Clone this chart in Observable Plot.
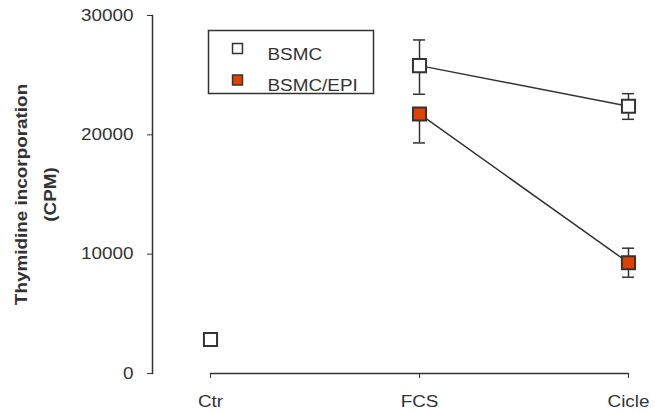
<!DOCTYPE html>
<html><head><meta charset="utf-8">
<script src="https://cdn.jsdelivr.net/npm/d3@7"></script>
<script src="https://cdn.jsdelivr.net/npm/@observablehq/plot@0.6"></script>
<style>body{margin:0;background:#fff} #chart{width:655px;height:414px}</style>
</head><body><div id="chart"></div>
<script>
const treatments = ["Ctr", "FCS", "Cicle"];
const seriesNames = ["BSMC", "BSMC/EPI"];
const seriesFills = ["#ffffff", "#e04000"];
const bsmcMean = [2850, 25800, 22400];
const bsmcErrUp = [0, 2150, 1050];
const bsmcErrDown = [0, 2400, 1100];
const epiMean = [null, 21750, 9280];
const epiErrUp = [null, 0, 1220];
const epiErrDown = [null, 2430, 1210];
const linked = ["FCS", "Cicle"];
const yTicks = [0, 10000, 20000, 30000];
const yLabelLines = ["Thymidine incorporation", "(CPM)"];

const means = [bsmcMean, epiMean], ups = [bsmcErrUp, epiErrUp], downs = [bsmcErrDown, epiErrDown];
const rows = [];
seriesNames.forEach((s, si) => treatments.forEach((t, ti) => {
  if (means[si][ti] != null) rows.push({series: s, si, treatment: t, mean: means[si][ti], up: ups[si][ti], down: downs[si][ti]});
}));

const ink = "#333";
const marks = [
  Plot.frame({anchor: "left", stroke: ink, strokeWidth: 1.5}),
  Plot.axisY({ticks: yTicks, tickFormat: "d", tickSize: 5, tickPadding: 14, fontSize: 16, label: null}),
  Plot.axisX({tickSize: 5, tickPadding: 17, fontSize: 16, label: null}),
  Plot.lineY(treatments.map(t => ({t})), {x: "t", y: d => 0, stroke: ink, strokeWidth: 1.5}),
  Plot.ruleX(rows.filter(r => r.up > 0 || r.down > 0), {x: "treatment", y1: r => r.mean - r.down, y2: r => r.mean + r.up, stroke: ink, strokeWidth: 1.5}),
  Plot.ruleY(rows.filter(r => r.up > 0), {y: r => r.mean + r.up, x1: "treatment", x2: "treatment", insetLeft: -6, insetRight: -6, stroke: ink, strokeWidth: 1.5}),
  Plot.ruleY(rows.filter(r => r.down > 0), {y: r => r.mean - r.down, x1: "treatment", x2: "treatment", insetLeft: -6, insetRight: -6, stroke: ink, strokeWidth: 1.5}),
  Plot.line(rows.filter(r => linked.includes(r.treatment)), {x: "treatment", y: "mean", z: "series", stroke: ink, strokeWidth: 1.5}),
  ...seriesNames.map((s, si) => Plot.dot(rows.filter(r => r.series === s), {x: "treatment", y: "mean", symbol: "square", r: 7.4, fill: seriesFills[si], stroke: ink, strokeWidth: 2})),
  // legend
  Plot.frame({insetLeft: 56, insetTop: 15, insetRight: 255, insetBottom: 280, stroke: ink, strokeWidth: 1.5}),
  ...seriesNames.map((s, si) => Plot.dot([s], {frameAnchor: "top-left", dx: 85, dy: 33 + si * 31.5, symbol: "square", r: 5.6, fill: seriesFills[si], stroke: ink, strokeWidth: 1.5})),
  ...seriesNames.map((s, si) => Plot.text([s], {frameAnchor: "top-left", dx: 115, dy: 33 + si * 31.5, text: d => d, textAnchor: "start", fontSize: 16, fill: ink})),
  // y label
  ...yLabelLines.map((l, li) => Plot.text([l], {frameAnchor: "left", dx: -131 + li * 29, text: d => d, rotate: -90, textAnchor: "middle", lineAnchor: "middle", fontSize: 16, fontWeight: "bold", fill: ink}))
];

const chart = Plot.plot({
  width: 655, height: 414,
  marginLeft: 152, marginRight: 27, marginTop: 15, marginBottom: 41,
  style: {fontFamily: "'Liberation Sans', Arial, sans-serif", fontSize: "16px", color: ink, background: "#fff"},
  x: {type: "point", domain: treatments, padding: 0, insetLeft: 58},
  y: {domain: [0, 30000]},
  marks
});
document.getElementById("chart").append(chart);
chart.querySelectorAll("text").forEach(t => {
  const len = t.getComputedTextLength();
  if (len > 0) { t.setAttribute("textLength", len * 1.18); t.setAttribute("lengthAdjust", "spacingAndGlyphs"); }
});
</script>
</body></html>
